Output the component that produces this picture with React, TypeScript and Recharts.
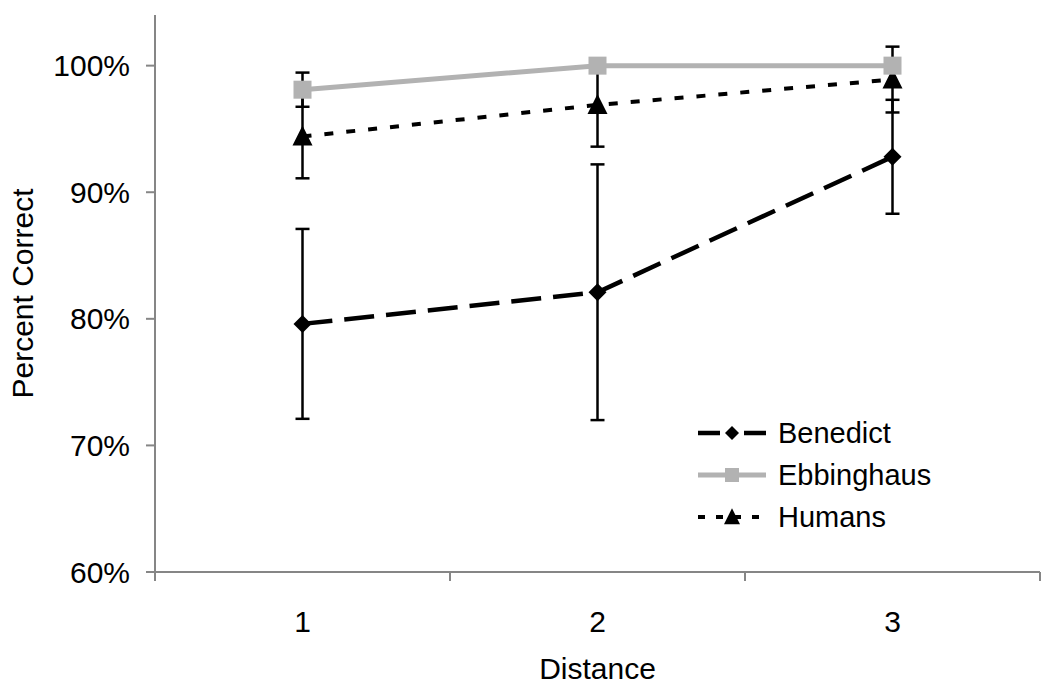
import React from 'react';
import { LineChart, Line, XAxis, YAxis, ErrorBar, Legend } from 'recharts';

// values (percent correct)
const distances = [1, 2, 3];
const benedict = [79.6, 82.1, 92.8];
const benedictErr = [7.5, 10.1, 4.5];
const ebbinghaus = [98.1, 100, 100];
const ebbinghausErr = [1.35, 0, 0];
const humans = [94.4, 96.9, 98.9];
const humansErr = [3.3, 3.3, 2.6];

const yTicks = [60, 70, 80, 90, 100];
const categoryEdges = [0.5, 1.5, 2.5, 3.5];

const chartData = distances.map((d, i) => ({
  distance: d,
  benedict: benedict[i],
  benedictErr: benedictErr[i],
  ebbinghaus: ebbinghaus[i],
  ebbinghausErr: ebbinghausErr[i],
  humans: humans[i],
  humansErr: humansErr[i],
}));

const FONT = '"Liberation Sans", Arial, sans-serif';
const GRAY = '#b2b2b2';
const AXIS = '#868686';

const diamond = (cx: number, cy: number, r: number, fill: string, key?: any) => (
  <path key={key} d={`M${cx},${cy - r} L${cx + r},${cy} L${cx},${cy + r} L${cx - r},${cy} Z`} fill={fill} />
);
const square = (cx: number, cy: number, r: number, fill: string, key?: any) => (
  <rect key={key} x={cx - r} y={cy - r} width={r * 2} height={r * 2} fill={fill} />
);
const triangle = (cx: number, cy: number, r: number, fill: string, key?: any) => (
  <path key={key} d={`M${cx},${cy - r * 1.1} L${cx + r},${cy + r * 0.9} L${cx - r},${cy + r * 0.9} Z`} fill={fill} />
);

const series = [
  { name: 'Benedict', color: '#000', width: 4.5, legendDash: '22 24', marker: diamond, legendSize: 7 },
  { name: 'Ebbinghaus', color: GRAY, width: 5, legendDash: undefined, marker: square, legendSize: 7 },
  { name: 'Humans', color: '#000', width: 4, legendDash: '7 11', marker: triangle, legendSize: 8 },
];

const XTick = (props: any) => {
  const { x, y, payload } = props;
  if (Number.isInteger(payload.value)) {
    return (
      <text x={x} y={y + 60} textAnchor="middle" fontSize={30} fontFamily={FONT} fill="#000">
        {payload.value}
      </text>
    );
  }
  return <line x1={x} x2={x} y1={y} y2={y + 9} stroke={AXIS} strokeWidth={2} />;
};

const renderLegend = () => (
  <div style={{ fontFamily: FONT }}>
    {series.map((s) => (
      <div key={s.name} style={{ display: 'flex', alignItems: 'center', height: 42 }}>
        <svg width={70} height={24} style={{ display: 'block' }}>
          <line x1={1} x2={69} y1={12} y2={12} stroke={s.color} strokeWidth={s.width} strokeDasharray={s.legendDash} />
          {s.marker(35, 12, s.legendSize, s.color)}
        </svg>
        <span style={{ marginLeft: 11, fontSize: 29, color: '#000', lineHeight: '30px' }}>{s.name}</span>
      </div>
    ))}
  </div>
);

export default function App() {
  return (
    <div style={{ position: 'absolute', left: 0, top: 0, width: 1050, height: 689, background: '#fff' }}>
      <LineChart
        width={1050}
        height={689}
        data={chartData}
        margin={{ top: 15, right: 10, left: 0, bottom: 0 }}
        style={{ fontFamily: FONT }}
      >
        <XAxis
          dataKey="distance"
          type="number"
          domain={[0.5, 3.5]}
          ticks={[...categoryEdges, ...distances].sort((a, b) => a - b)}
          interval={0}
          height={117}
          tickSize={0}
          tickMargin={0}
          tickLine={false}
          axisLine={{ stroke: AXIS, strokeWidth: 2 }}
          tick={<XTick />}
          label={{
            content: (p: any) => (
              <text
                x={p.viewBox.x + p.viewBox.width / 2}
                y={679}
                textAnchor="middle"
                fontSize={30}
                fontFamily={FONT}
                fill="#000"
              >
                Distance
              </text>
            ),
          }}
        />
        <YAxis
          type="number"
          domain={[60, 104]}
          ticks={yTicks}
          interval={0}
          width={155}
          tickSize={9}
          tickMargin={16}
          tickFormatter={(v: number) => `${v}%`}
          tick={{ fontSize: 30, fill: '#000', fontFamily: FONT }}
          tickLine={{ stroke: AXIS, strokeWidth: 2 }}
          axisLine={{ stroke: AXIS, strokeWidth: 2 }}
          label={{
            content: (p: any) => {
              const cy = p.viewBox.y + p.viewBox.height / 2;
              return (
                <text
                  x={33}
                  y={cy}
                  transform={`rotate(-90 33 ${cy})`}
                  textAnchor="middle"
                  fontSize={30}
                  fontFamily={FONT}
                  fill="#000"
                >
                  Percent Correct
                </text>
              );
            },
          }}
        />
        <Legend
          layout="vertical"
          align="center"
          verticalAlign="middle"
          content={renderLegend}
          wrapperStyle={{ left: 697, top: 412, width: 300 }}
        />
        <Line
          dataKey="benedict"
          name="Benedict"
          type="linear"
          stroke="#000"
          strokeWidth={4.5}
          strokeDasharray="30 12"
          isAnimationActive={false}
          activeDot={false}
          dot={(p: any) => diamond(p.cx, p.cy, 9, '#000', `b-${p.index}`)}
        >
          <ErrorBar dataKey="benedictErr" direction="y" width={7} stroke="#000" strokeWidth={2.5} isAnimationActive={false} />
        </Line>
        <Line
          dataKey="humans"
          name="Humans"
          type="linear"
          stroke="#000"
          strokeWidth={4}
          strokeDasharray="9 13"
          isAnimationActive={false}
          activeDot={false}
          dot={(p: any) => triangle(p.cx, p.cy, 10, '#000', `h-${p.index}`)}
        >
          <ErrorBar dataKey="humansErr" direction="y" width={7} stroke="#000" strokeWidth={2.5} isAnimationActive={false} />
        </Line>
        <Line
          dataKey="ebbinghaus"
          name="Ebbinghaus"
          type="linear"
          stroke={GRAY}
          strokeWidth={5}
          isAnimationActive={false}
          activeDot={false}
          dot={(p: any) => square(p.cx, p.cy, 9, GRAY, `e-${p.index}`)}
        >
          <ErrorBar dataKey="ebbinghausErr" direction="y" width={7} stroke="#000" strokeWidth={2.5} isAnimationActive={false} />
        </Line>
      </LineChart>
    </div>
  );
}
